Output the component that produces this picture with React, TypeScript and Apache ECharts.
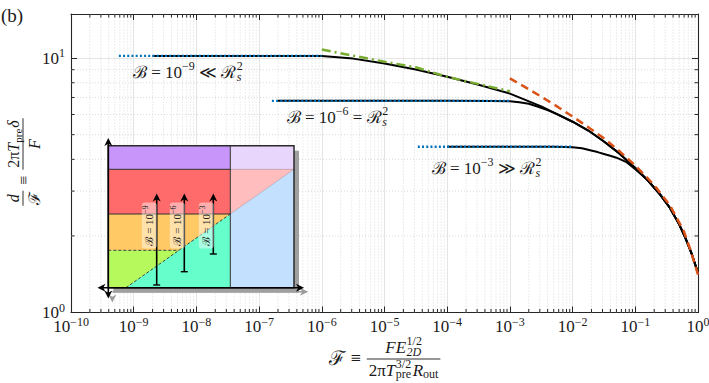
import React, { useEffect, useRef } from 'react';
import * as echarts from 'echarts';

// ---------------- data ----------------
const X_MIN = 1e-10;
const X_MAX = 1;
const Y_MIN = 1;
const Y_MAX = 14.9;
const MINOR_MULTIPLIERS = [2, 3, 4, 5, 6, 7, 8, 9];

// black curve, B = 1e-9 (also the common envelope at large F)
const B9_F = [2e-9, 1e-8, 1e-7, 3.16e-7, 1e-6, 3.16e-6, 1e-5, 3.16e-5, 1e-4, 3.16e-4, 1e-3, 3.16e-3, 1e-2, 1.78e-2, 3.16e-2, 5.62e-2, 0.1, 0.158, 0.251, 0.355, 0.501, 0.631, 0.794, 1];
const B9_D = [10.2, 10.2, 10.2, 10.2, 10.18, 9.95, 9.52, 9.02, 8.45, 7.85, 7.25, 6.46, 5.62, 5.19, 4.7, 4.21, 3.7, 3.31, 2.9, 2.58, 2.22, 1.96, 1.7, 1.43];
// black curve, B = 1e-6
const B6_F = [2e-7, 1e-6, 1e-5, 1e-4, 5e-4, 1e-3, 1.41e-3, 2e-3, 2.82e-3, 3.98e-3, 5.62e-3, 1e-2, 1.78e-2, 3.16e-2, 5.62e-2, 0.1, 0.158, 0.251, 0.355, 0.501, 0.631, 0.794, 1];
const B6_D = [6.79, 6.79, 6.79, 6.79, 6.78, 6.76, 6.71, 6.61, 6.44, 6.24, 6.02, 5.62, 5.19, 4.7, 4.21, 3.7, 3.31, 2.9, 2.58, 2.22, 1.96, 1.7, 1.43];
// black curve, B = 1e-3
const B3_F = [1e-4, 1e-3, 5e-3, 1e-2, 1.41e-2, 1.9e-2, 2.51e-2, 3.16e-2, 3.98e-2, 5.01e-2, 7.08e-2, 0.1, 0.126, 0.158, 0.251, 0.355, 0.501, 0.631, 0.794, 1];
const B3_D = [4.48, 4.48, 4.48, 4.46, 4.42, 4.34, 4.27, 4.2, 4.13, 4.06, 3.91, 3.66, 3.48, 3.31, 2.9, 2.58, 2.22, 1.96, 1.7, 1.43];
// blue dotted plateaus
const BLUE9_F = [5.8e-10, 1e-6];
const BLUE9_D = [10.2, 10.2];
const BLUE6_F = [1.6e-7, 1e-3];
const BLUE6_D = [6.79, 6.79];
const BLUE3_F = [3.4e-5, 1e-2];
const BLUE3_D = [4.48, 4.48];
// green dash-dot asymptote
const GREEN_F = [1e-6, 1e-5, 3.16e-5, 1e-4, 1e-3];
const GREEN_D = [10.8, 9.67, 9.2, 8.44, 7.4];
// orange dashed asymptote
const ORANGE_F = [1e-3, 1.78e-3, 3.16e-3, 5.62e-3, 1e-2, 1.78e-2, 3.16e-2, 5.62e-2, 0.1, 0.158, 0.219, 0.355, 0.468, 0.589, 0.759, 1];
const ORANGE_D = [8.32, 7.67, 7.05, 6.46, 5.89, 5.35, 4.84, 4.3, 3.78, 3.37, 3.08, 2.64, 2.33, 2.1, 1.76, 1.41];

const CURVE_LABEL_EXPS = ['−9', '−6', '−3'];
const CURVE_LABEL_RELS = ['≪', '=', '≫'];
const INSET_LABEL_EXPS = ['−9', '−6', '−3'];

// ---------------- styling helpers ----------------
const FONT_FAMILY = 'Liberation Serif, DejaVu Serif, serif';
const INK = '#1a1a1a';

let measureCtx: CanvasRenderingContext2D | null = null;
function tw(t: string, size: number, italic?: boolean) {
  if (!measureCtx) measureCtx = document.createElement('canvas').getContext('2d');
  if (!measureCtx) return t.length * size * 0.5;
  measureCtx.font = `${italic ? 'italic ' : ''}${size}px ${FONT_FAMILY}`;
  return measureCtx.measureText(t).width;
}

type Piece = { t: string; s: number; it?: boolean; dy?: number; stack?: boolean; gap?: number };

function layout(pieces: Piece[]) {
  let x = 0;
  let prevStart = 0;
  let prevW = 0;
  const items: { x: number; p: Piece }[] = [];
  for (const p of pieces) {
    const w = tw(p.t, p.s, p.it);
    if (p.stack) {
      items.push({ x: prevStart, p });
      prevW = Math.max(prevW, w);
      x = prevStart + prevW;
    } else {
      const start = x + (p.gap || 0);
      items.push({ x: start, p });
      prevStart = start;
      prevW = w;
      x = start + w;
    }
  }
  return { items, width: x };
}

function textRun(pieces: Piece[], left: number, cy: number, z: number, color = INK): any[] {
  const { items } = layout(pieces);
  return items.map(({ x, p }) => ({
    type: 'text',
    x: left + x,
    y: cy + (p.dy || 0),
    z,
    silent: true,
    style: {
      text: p.t,
      fontSize: p.s,
      fontFamily: FONT_FAMILY,
      fontStyle: p.it ? 'italic' : 'normal',
      fill: color,
      textAlign: 'left',
      textVerticalAlign: 'middle',
      verticalAlign: 'middle',
    },
  }));
}

function fraction(num: Piece[], den: Piece[], left: number, lineY: number, z: number, numDy: number, denDy: number, pad = 2) {
  const nw = layout(num).width;
  const dw = layout(den).width;
  const w = Math.max(nw, dw) + 2 * pad;
  return {
    width: w,
    els: [
      ...textRun(num, left + (w - nw) / 2, lineY - numDy, z),
      ...textRun(den, left + (w - dw) / 2, lineY + denDy, z),
      { type: 'line', z, silent: true, shape: { x1: left, y1: lineY, x2: left + w, y2: lineY }, style: { stroke: INK, lineWidth: 0.9 } },
    ],
  };
}

function arrowHead(tx: number, ty: number, dir: 'up' | 'down' | 'left' | 'right', fill: string, z: number, len = 8, half = 4) {
  const base: number[][] = [[0, 0], [-half, len], [0, len * 0.72], [half, len]];
  const rot = (p: number[]) => {
    const [a, b] = p;
    if (dir === 'up') return [tx + a, ty + b];
    if (dir === 'down') return [tx + a, ty - b];
    if (dir === 'left') return [tx + b, ty + a];
    return [tx - b, ty + a];
  };
  return { type: 'polygon', z, silent: true, shape: { points: base.map(rot) }, style: { fill } };
}

function line(x1: number, y1: number, x2: number, y2: number, stroke: string, lineWidth: number, z: number, lineDash?: number[]) {
  return { type: 'line', z, silent: true, shape: { x1, y1, x2, y2 }, style: { stroke, lineWidth, lineDash } };
}

function rect(x: number, y: number, w: number, h: number, fill: string, z: number, stroke?: string, lineWidth?: number) {
  return { type: 'rect', z, silent: true, shape: { x, y, width: w, height: h }, style: { fill, stroke, lineWidth } };
}

function polygon(points: number[][], fill: string, z: number) {
  return { type: 'polygon', z, silent: true, shape: { points }, style: { fill } };
}

function buildInset(): any[] {
  const x0 = 108.3, y0 = 145.7, x1 = 294, y1 = 287.7;
  const xd = 230.3, yP = 169.3, yR = 214, yD = 250.3, dStart = 126;
  const t = (y1 - yD) / (y1 - yR);
  const xCross = dStart + t * (xd - dStart);
  const gray = '#9b9b9b';
  const els: any[] = [];
  const off = 4;
  // gray shadow of axes
  els.push(line(x0 + off, y1 + off, 303 + off, y1 + off, gray, 1.6, 10));
  els.push(arrowHead(304 + off, y1 + off, 'right', gray, 10));
  els.push(arrowHead(x0 + off, 298.5 + off, 'down', gray, 10));
  // box shadow
  els.push(rect(x0 + 5, y0 + 5, x1 - x0, y1 - y0, '#a0a0a0', 10));
  // fills
  els.push(rect(x0, y0, xd - x0, yP - y0, '#C896FA', 11));
  els.push(rect(xd, y0, x1 - xd, yP - y0, '#E9D6FC', 11));
  els.push(rect(x0, yP, xd - x0, yR - yP, '#FF6A6A', 11));
  els.push(rect(xd, yP, x1 - xd, y1 - yP, '#C3E1FF', 11));
  els.push(polygon([[xd, yP], [x1, yP], [xd, yR]], '#FFBDBD', 11));
  els.push(rect(x0, yR, xd - x0, yD - yR, '#FFC966', 11));
  els.push(rect(x0, yD, xd - x0, y1 - yD, '#B6F95C', 11));
  els.push(polygon([[dStart, y1], [xd, yR], [xd, y1]], '#66FFCC', 11));
  // boundaries
  els.push(line(xd, yR, x1, yP, 'rgba(0,0,0,0.18)', 0.8, 12));
  els.push(line(xd, yP, x1, yP, 'rgba(0,0,0,0.2)', 0.8, 12));
  els.push(line(x0, yP, xd, yP, '#333', 1, 12));
  els.push(line(x0, yR, xd, yR, '#333', 1, 12));
  els.push(line(xd, y0, xd, y1, '#333', 1, 12));
  els.push(line(x0, yD, xCross, yD, '#333', 0.9, 12, [3, 2]));
  els.push(line(dStart, y1, xd, yR, '#333', 0.9, 12, [3, 2]));
  els.push(rect(x0, y0, x1 - x0, y1 - y0, 'none', 13, '#2a2a2a', 1.5));
  // black axes
  els.push(line(x0, 141, x0, 296, '#000', 1.6, 14));
  els.push(arrowHead(x0, 138, 'up', '#000', 14));
  els.push(arrowHead(x0, 298.5, 'down', '#000', 14));
  els.push(line(100, y1, 302, y1, '#000', 1.6, 14));
  els.push(arrowHead(97.5, y1, 'left', '#000', 14));
  els.push(arrowHead(304, y1, 'right', '#000', 14));
  // B arrows
  const ax = [156.7, 184.3, 213.3];
  const ab = [285, 271.7, 254];
  ax.forEach((x, i) => {
    els.push(line(x, ab[i], x, 198, '#000', 1.6, 14));
    els.push(line(x - 3.5, ab[i], x + 3.5, ab[i], '#000', 1.4, 14));
    els.push(arrowHead(x, 193.5, 'up', '#000', 14, 8, 4));
  });
  // rotated labels
  const lx = [149.3, 177.3, 206.3];
  INSET_LABEL_EXPS.forEach((e, i) => {
    const pieces: Piece[] = [{ t: 'ℬ', s: 11 }, { t: ' = ', s: 11 }, { t: '10', s: 11 }, { t: e, s: 8, dy: -4 }];
    const w = layout(pieces).width;
    els.push({
      type: 'group',
      x: lx[i],
      y: 225.5,
      rotation: Math.PI / 2,
      children: [
        { type: 'rect', z: 15, silent: true, shape: { x: -w / 2 - 3, y: -7.5, width: w + 6, height: 15, r: 3 }, style: { fill: 'rgba(255,255,255,0.45)' } },
        ...textRun(pieces, -w / 2, 0, 16, '#222'),
      ],
    });
  });
  return els;
}

function buildTexts(): any[] {
  const els: any[] = [];
  // panel label
  els.push(...textRun([{ t: '(b)', s: 19 }], 1, 15, 20));
  // curve annotations
  const annLeft = [133, 286.7, 431.7];
  const annY = [72, 117, 168];
  CURVE_LABEL_EXPS.forEach((e, i) => {
    const pieces: Piece[] = [
      { t: 'ℬ', s: 17 },
      { t: ' = ', s: 17 },
      { t: '10', s: 17 },
      { t: e, s: 12, dy: -6 },
      { t: ` ${CURVE_LABEL_RELS[i]} `, s: 17 },
      { t: 'ℛ', s: 17 },
      { t: '2', s: 12, dy: -6, gap: 0.5 },
      { t: 's', s: 12, it: true, dy: 5, stack: true },
    ];
    els.push(...textRun(pieces, annLeft[i], annY[i], 20));
  });
  // x title
  const lhs: Piece[] = [{ t: 'ℱ', s: 20 }, { t: '≡', s: 18, gap: 6 }];
  const lw = layout(lhs).width + 6;
  const num: Piece[] = [{ t: 'FE', s: 17, it: true }, { t: '1/2', s: 12, dy: -6, gap: 0.5 }, { t: '2D', s: 12, it: true, dy: 4.5, stack: true }];
  const den: Piece[] = [
    { t: '2π', s: 17 },
    { t: 'T', s: 17, it: true },
    { t: '3/2', s: 12, dy: -6, gap: 0.5 },
    { t: 'pre', s: 12, dy: 4, stack: true },
    { t: 'R', s: 17, it: true, gap: 1.5 },
    { t: 'out', s: 12, dy: 4 },
  ];
  const fw = fraction(num, den, 0, 0, 20, 12, 11).width;
  const total = lw + fw;
  const start = 384.5 - total / 2;
  els.push(...textRun(lhs, start, 358, 20));
  els.push(...fraction(num, den, start + lw, 359, 20, 12, 11).els);
  // y title (rotated)
  const f1n: Piece[] = [{ t: 'd', s: 16, it: true }];
  const f1d: Piece[] = [{ t: 'ℱ', s: 16 }];
  const f2n: Piece[] = [{ t: '2π', s: 16 }, { t: 'T', s: 16, it: true }, { t: 'pre', s: 11, dy: 5 }, { t: 'δ', s: 16, it: true, gap: 1 }];
  const f2d: Piece[] = [{ t: 'F', s: 16, it: true }];
  const w1 = fraction(f1n, f1d, 0, 0, 20, 10, 11, 1).width;
  const eqW = tw('≡', 16);
  const w2 = fraction(f2n, f2d, 0, 0, 20, 10, 11).width;
  const gap = 6;
  const tot = w1 + gap + eqW + gap + w2;
  const s0 = -tot / 2 + 1;
  const children: any[] = [
    ...fraction(f1n, f1d, s0, 0, 20, 10, 11, 1).els,
    ...textRun([{ t: '≡', s: 16 }], s0 + w1 + gap, 0, 20),
    ...fraction(f2n, f2d, s0 + w1 + gap + eqW + gap, 0, 20, 10, 11).els,
  ];
  els.push({ type: 'group', x: 23, y: 163, rotation: Math.PI / 2, children });
  return els;
}

// ---------------- chart ----------------
const L = Math.log10;
const toPts = (fs: number[], ds: number[]) => fs.map((f, i) => [L(f), L(ds[i])]);

function expLabel(v: number) {
  const r = Math.round(v);
  if (Math.abs(v - r) > 1e-6) return '';
  const s = r < 0 ? `−${-r}` : `${r}`;
  return `{b|10}{s|${s}}`;
}

const labelRich = {
  b: { fontSize: 17, fontFamily: FONT_FAMILY, lineHeight: 22, verticalAlign: 'middle', color: INK },
  s: { fontSize: 12, fontFamily: FONT_FAMILY, lineHeight: 12, verticalAlign: 'top', color: INK },
};

export default function App() {
  const ref = useRef<HTMLDivElement>(null);
  useEffect(() => {
    if (!ref.current) return;
    const chart = echarts.init(ref.current, undefined, { renderer: 'svg' });
    const lx0 = L(X_MIN), lx1 = L(X_MAX), ly0 = L(Y_MIN), ly1 = L(Y_MAX);
    const xMinor: number[] = [];
    for (let n = Math.round(lx0); n < Math.round(lx1); n++) MINOR_MULTIPLIERS.forEach((k) => xMinor.push(n + L(k)));
    const yMinor: number[] = [];
    for (let n = Math.floor(ly0); n < Math.ceil(ly1); n++) MINOR_MULTIPLIERS.forEach((k) => { const v = n + L(k); if (v < ly1) yMinor.push(v); });
    const axisLine = { show: true, onZero: false, lineStyle: { color: '#262626', width: 1.1 } };
    const axisTick = { show: true, inside: true, length: 6, lineStyle: { color: '#262626', width: 1 } };
    const tickColor = '#262626';
    const minorGridStyle = { stroke: '#d2d2d2', lineWidth: 0.8, lineDash: [1, 2] };

    const blackLine = (name: string, data: number[][]) => ({
      name, type: 'line', data, showSymbol: false, symbol: 'none', smooth: false, z: 3, silent: true,
      lineStyle: { color: '#000', width: 2, join: 'round' },
    });
    const blueLine = (name: string, data: number[][]) => ({
      name, type: 'line', data, showSymbol: false, symbol: 'none', z: 5, silent: true,
      lineStyle: { color: '#0072BD', width: 2.4, type: [2, 2.2], cap: 'butt' },
    });

    const option: any = {
      animation: false,
      backgroundColor: '#ffffff',
      textStyle: { fontFamily: FONT_FAMILY },
      grid: { left: 71, right: 11, top: 14, bottom: 70.5, containLabel: false, outerBoundsMode: 'none' },
      xAxis: [
        {
          type: 'value', min: lx0, max: lx1, interval: 1, position: 'bottom',
          axisLine, axisTick,
          axisLabel: { margin: 3, fontFamily: FONT_FAMILY, formatter: expLabel, rich: labelRich },
          splitLine: { show: true, lineStyle: { color: '#e4e4e4', width: 1 } },
        },
        {
          type: 'value', min: lx0, max: lx1, interval: 1, position: 'top',
          axisLine, axisTick, axisLabel: { show: false }, splitLine: { show: false },
        },
      ],
      yAxis: [
        {
          type: 'value', min: ly0, max: ly1, interval: 1, position: 'left',
          axisLine, axisTick,
          axisLabel: { margin: 6, fontFamily: FONT_FAMILY, formatter: expLabel, rich: labelRich },
          splitLine: { show: true, lineStyle: { color: '#e4e4e4', width: 1 } },
        },
        {
          type: 'value', min: ly0, max: ly1, interval: 1, position: 'right',
          axisLine, axisTick, axisLabel: { show: false }, splitLine: { show: false },
        },
      ],
      series: [
        {
          type: 'custom', silent: true, z: 1, clip: false,
          data: xMinor.map((v) => [v, ly0]),
          encode: { x: 0, y: 1 },
          renderItem: (_p: any, api: any) => {
            const v = api.value(0);
            const b = api.coord([v, ly0]);
            const t = api.coord([v, ly1]);
            return {
              type: 'group',
              children: [
                { type: 'line', shape: { x1: b[0], y1: b[1], x2: t[0], y2: t[1] }, style: minorGridStyle },
                { type: 'line', shape: { x1: b[0], y1: b[1], x2: b[0], y2: b[1] - 3.5 }, style: { stroke: tickColor, lineWidth: 1 } },
                { type: 'line', shape: { x1: t[0], y1: t[1], x2: t[0], y2: t[1] + 3.5 }, style: { stroke: tickColor, lineWidth: 1 } },
              ],
            };
          },
        },
        {
          type: 'custom', silent: true, z: 1, clip: false,
          data: yMinor.map((v) => [lx0, v]),
          encode: { x: 0, y: 1 },
          renderItem: (_p: any, api: any) => {
            const v = api.value(1);
            const l = api.coord([lx0, v]);
            const r = api.coord([lx1, v]);
            return {
              type: 'group',
              children: [
                { type: 'line', shape: { x1: l[0], y1: l[1], x2: r[0], y2: r[1] }, style: minorGridStyle },
                { type: 'line', shape: { x1: l[0], y1: l[1], x2: l[0] + 3.5, y2: l[1] }, style: { stroke: tickColor, lineWidth: 1 } },
                { type: 'line', shape: { x1: r[0], y1: r[1], x2: r[0] - 3.5, y2: r[1] }, style: { stroke: tickColor, lineWidth: 1 } },
              ],
            };
          },
        },
        blackLine('B=1e-9', toPts(B9_F, B9_D)),
        blackLine('B=1e-6', toPts(B6_F, B6_D)),
        blackLine('B=1e-3', toPts(B3_F, B3_D)),
        blueLine('plateau 1e-9', toPts(BLUE9_F, BLUE9_D)),
        blueLine('plateau 1e-6', toPts(BLUE6_F, BLUE6_D)),
        blueLine('plateau 1e-3', toPts(BLUE3_F, BLUE3_D)),
        {
          name: 'small-F asymptote', type: 'line', data: toPts(GREEN_F, GREEN_D), showSymbol: false, symbol: 'none',
          smooth: false, z: 4, silent: true,
          lineStyle: { color: '#77AC30', width: 2.5, type: [9, 4, 2, 4], cap: 'butt' },
        },
        {
          name: 'large-F asymptote', type: 'line', data: toPts(ORANGE_F, ORANGE_D), showSymbol: false, symbol: 'none',
          smooth: false, z: 4, silent: true,
          lineStyle: { color: '#D95319', width: 2.5, type: [8, 5], cap: 'butt', join: 'round' },
        },
      ],
      graphic: [...buildInset(), ...buildTexts()],
    };
    chart.setOption(option);
    return () => chart.dispose();
  }, []);
  return <div ref={ref} style={{ position: 'fixed', left: 0, top: 0, width: 709, height: 383, background: '#fff' }} />;
}
